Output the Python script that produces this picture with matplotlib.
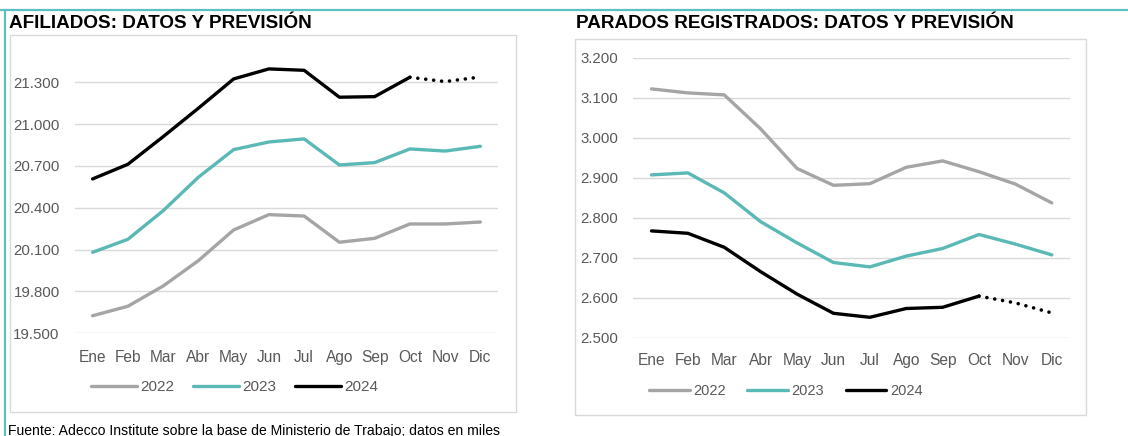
import matplotlib.pyplot as plt
from matplotlib.patches import Rectangle
from matplotlib.ticker import FuncFormatter, MultipleLocator

plt.rcParams["font.family"] = ["Liberation Sans", "DejaVu Sans"]

meses = ["Ene", "Feb", "Mar", "Abr", "May", "Jun", "Jul", "Ago", "Sep", "Oct", "Nov", "Dic"]

# afiliados (miles)
afil_2022 = [19626, 19694, 19839, 20021, 20241, 20351, 20341, 20153, 20181, 20284, 20284, 20298]
afil_2023 = [20081, 20174, 20379, 20619, 20817, 20872, 20894, 20707, 20724, 20822, 20807, 20841]
afil_2024 = [20607, 20712, 20910, 21114, 21324, 21396, 21386, 21193, 21197, 21336]
afil_prev = [21336, 21305, 21338]  # Oct-Dic prevision

# parados registrados (miles)
par_2022 = [3122, 3112, 3107, 3022, 2923, 2881, 2885, 2926, 2942, 2915, 2884, 2837]
par_2023 = [2907, 2912, 2862, 2790, 2737, 2688, 2677, 2704, 2723, 2758, 2734, 2707]
par_2024 = [2767, 2761, 2726, 2665, 2609, 2561, 2551, 2573, 2576, 2604]
par_prev = [2604, 2587, 2562]

GRIS = "#A5A5A5"
TEAL = "#5AB9B4"
TXT = "#595959"

W, H = 1128, 436
fig = plt.figure(figsize=(W / 100, H / 100), dpi=100)


def px(x, y, w, h):
    # pixel box -> figure fraction
    return [x / W, 1 - (y + h) / H, w / W, h / H]


def miles(v, pos):
    return f"{int(round(v)):,}".replace(",", ".")


# marco exterior
fig.add_artist(plt.Line2D([0, 1], [1 - 10 / H, 1 - 10 / H], color="#5CBFC2", lw=1.6))
fig.add_artist(plt.Line2D([4.5 / W, 4.5 / W], [0, 1 - 10 / H], color="#5CBFC2", lw=1.6))

# cajas de los graficos
for bx in [(10, 35, 506, 377), (575, 39, 511, 376)]:
    fig.add_artist(Rectangle((bx[0] / W, 1 - (bx[1] + bx[3]) / H), bx[2] / W, bx[3] / H,
                             fill=False, ec="#D9D9D9", lw=1.0))


def panel(rect, s22, s23, s24, prev, ylo, yhi, step, title, title_x, leg_x, leg_y, xpad,
          leg_fs, leg_hl, leg_cs):
    ax = fig.add_axes(px(*rect))
    x = range(len(meses))
    ax.plot(x, s22, color=GRIS, lw=2.4, solid_capstyle="round", label="2022")
    ax.plot(x, s23, color=TEAL, lw=2.4, solid_capstyle="round", label="2023")
    ax.plot(range(len(s24)), s24, color="black", lw=2.4, solid_capstyle="round", label="2024")
    ax.plot(range(len(s24) - 1, len(s24) - 1 + len(prev)), prev, color="black", lw=2.6,
            ls=(0, (0.01, 2.2)), dash_capstyle="round")
    ax.set_xlim(-0.5, len(meses) - 0.5)
    ax.set_ylim(ylo, yhi)
    ax.yaxis.set_major_locator(MultipleLocator(step))
    ax.yaxis.set_major_formatter(FuncFormatter(miles))
    ax.set_xticks(list(x))
    ax.set_xticklabels(meses)
    ax.grid(axis="y", color="#D9D9D9", lw=1.0)
    ax.set_axisbelow(True)
    for s in ax.spines.values():
        s.set_visible(False)
    ax.tick_params(axis="y", length=0, pad=11, labelsize=10.8, labelcolor=TXT)
    ax.tick_params(axis="x", length=0, pad=xpad, labelsize=11.2, labelcolor=TXT)
    fig.text(title_x / W, 1 - 15 / H, title, fontsize=13.6, fontweight="bold", va="top", ha="left")
    fig.legend(*ax.get_legend_handles_labels(), loc="center left",
               bbox_to_anchor=(leg_x / W, 1 - leg_y / H), ncol=3, frameon=False,
               fontsize=leg_fs, labelcolor=TXT, handlelength=leg_hl, handletextpad=0.25,
               columnspacing=leg_cs, borderpad=0, borderaxespad=0)
    return ax


panel((75, 54.4, 423, 278.9), afil_2022, afil_2023, afil_2024, afil_prev,
      19500, 21500, 300, "AFILIADOS: DATOS Y PREVISIÓN", 9, 91, 387, 12, 11, 3.0, 1.2)
panel((633.3, 57.7, 436.7, 280), par_2022, par_2023, par_2024, par_prev,
      2500, 3200, 100, "PARADOS REGISTRADOS: DATOS Y PREVISIÓN", 576, 649, 391, 11, 10.5, 2.8, 1.45)

fig.text(8 / W, 1 - 424 / H, "Fuente: Adecco Institute sobre la base de Ministerio de Trabajo; datos en miles",
         fontsize=10.1, va="top", ha="left")

fig.savefig("out.png", dpi=100)
